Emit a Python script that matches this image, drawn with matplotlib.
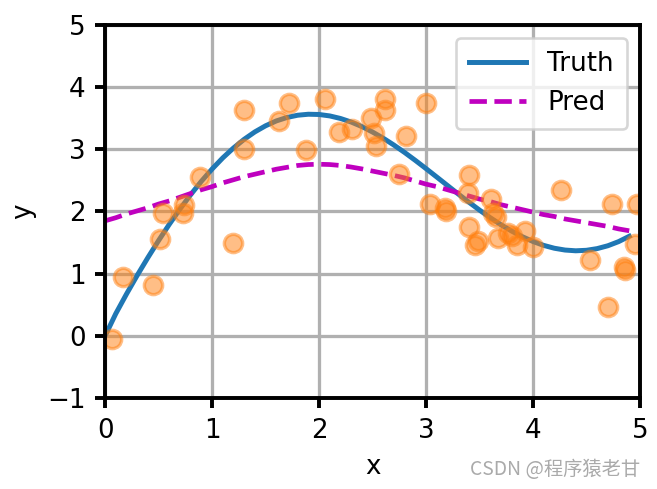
import matplotlib
matplotlib.use("Agg")
import matplotlib.pyplot as plt

# training samples
x_train = [0.06, 0.17, 0.45, 0.51, 0.54, 0.73, 0.74, 0.89, 1.20, 1.30,
           1.30, 1.63, 1.72, 1.88, 2.06, 2.19, 2.31, 2.49, 2.51, 2.53,
           2.62, 2.62, 2.81, 3.00, 2.75, 3.04, 3.18, 3.19, 3.40, 3.39,
           3.40, 3.46, 3.49, 3.61, 3.63, 3.65, 3.67, 3.77, 3.80, 3.85,
           3.93, 4.00, 4.26, 4.53, 4.70, 4.74, 4.85, 4.86, 4.97, 4.95]
y_train = [-0.05, 0.94, 0.82, 1.55, 1.98, 1.98, 2.10, 2.55, 1.50, 3.00,
           3.64, 3.45, 3.75, 2.99, 3.81, 3.28, 3.32, 3.51, 3.26, 3.05,
           3.81, 3.64, 3.22, 3.74, 2.60, 2.12, 2.05, 2.01, 2.58, 2.29,
           1.75, 1.46, 1.52, 2.20, 1.98, 1.91, 1.57, 1.65, 1.60, 1.46,
           1.68, 1.43, 2.35, 1.22, 0.47, 2.12, 1.10, 1.06, 2.12, 1.48]

# curves, sampled every 0.1 on x
x_test = [0.0, 0.1, 0.2, 0.3, 0.4, 0.5, 0.6, 0.7, 0.8, 0.9,
          1.0, 1.1, 1.2, 1.3, 1.4, 1.5, 1.6, 1.7, 1.8, 1.9,
          2.0, 2.1, 2.2, 2.3, 2.4, 2.5, 2.6, 2.7, 2.8, 2.9,
          3.0, 3.1, 3.2, 3.3, 3.4, 3.5, 3.6, 3.7, 3.8, 3.9,
          4.0, 4.1, 4.2, 4.3, 4.4, 4.5, 4.6, 4.7, 4.8, 4.9]
y_truth = [0.000, 0.358, 0.673, 0.973, 1.259, 1.533, 1.794, 2.040, 2.271, 2.486,
           2.683, 2.862, 3.021, 3.161, 3.280, 3.378, 3.456, 3.512, 3.548, 3.564,
           3.560, 3.537, 3.496, 3.439, 3.366, 3.278, 3.179, 3.068, 2.949, 2.822,
           2.690, 2.555, 2.419, 2.283, 2.151, 2.023, 1.901, 1.788, 1.686, 1.595,
           1.518, 1.455, 1.409, 1.380, 1.368, 1.376, 1.403, 1.449, 1.515, 1.601]
y_pred = [1.85, 1.90, 1.96, 2.01, 2.06, 2.12, 2.17, 2.23, 2.29, 2.35,
          2.40, 2.46, 2.51, 2.56, 2.60, 2.64, 2.68, 2.71, 2.74, 2.755,
          2.76, 2.755, 2.74, 2.715, 2.685, 2.65, 2.615, 2.58, 2.54, 2.49,
          2.44, 2.40, 2.35, 2.30, 2.25, 2.20, 2.16, 2.11, 2.07, 2.03,
          1.99, 1.95, 1.92, 1.88, 1.85, 1.82, 1.79, 1.76, 1.72, 1.69]

fig = plt.figure(figsize=(657 / 188, 489 / 188), dpi=188)
ax = fig.add_axes([0.160, 0.186, 0.814, 0.763])

ax.plot(x_test, y_truth, "-", color="C0", lw=1.9, label="Truth")
ax.plot(x_test, y_pred, "m--", lw=1.8, label="Pred")
ax.plot(x_train, y_train, "o", color="C1", alpha=0.5, ms=7, mew=1.3)

ax.set_xlim(0, 5)
ax.set_ylim(-1, 5)
ax.set_xlabel("x")
ax.set_ylabel("y")
ax.grid(True, lw=1.25)
for s in ax.spines.values():
    s.set_linewidth(1.5)
ax.tick_params(width=1.5, length=4)
ax.legend(loc="upper right", handlelength=2.2, borderpad=0.5)

fig.text(0.975, 0.039, "CSDN @程序猿老甘", ha="right", va="center",
         fontsize=7.4, color="#aaaaaa",
         family=["Noto Sans CJK SC", "DejaVu Sans"])

fig.savefig("out.png", dpi=188)
